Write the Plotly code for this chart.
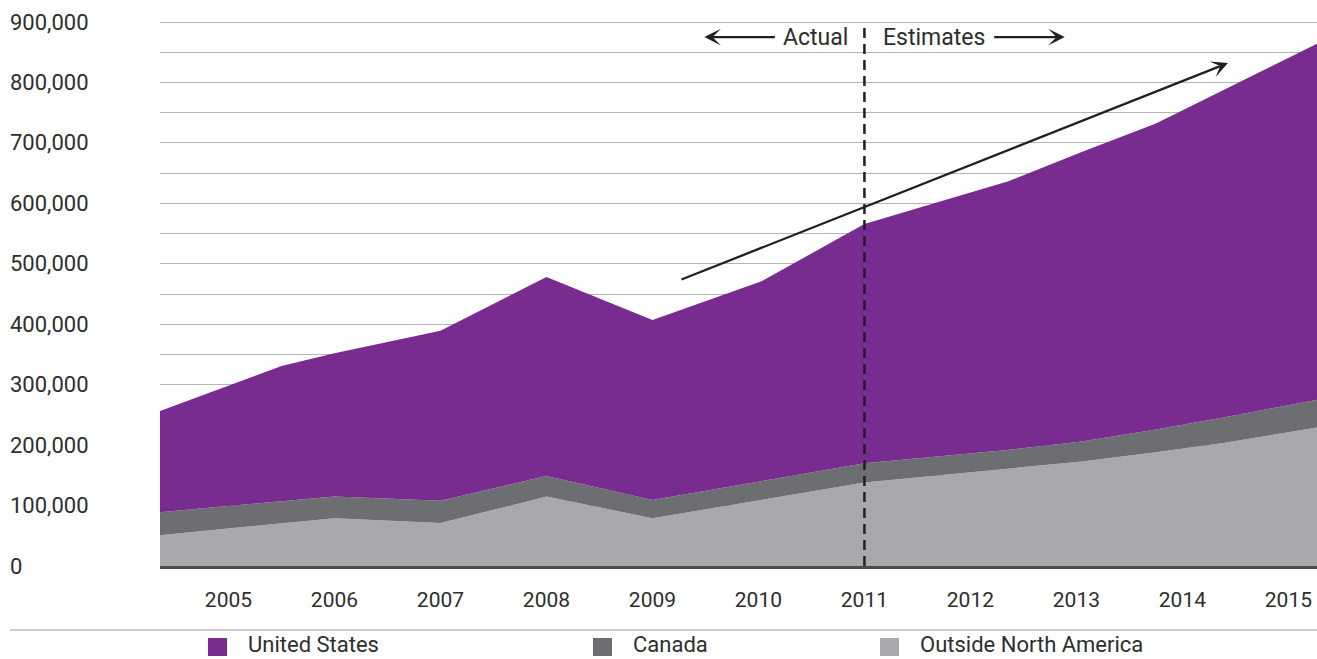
import plotly.graph_objects as go

# Position along the time axis (fractional years) of each vertex of the areas
years = [2004.35, 2005.5, 2006.0, 2007.0, 2008.0, 2009.0, 2010.03,
         2011.0, 2012.35, 2013.05, 2013.75, 2014.4, 2015.27]

# Stacked series (units)
outside_na = [51000, 70000, 79000, 71000, 115000, 79000, 110000,
              138000, 161000, 173000, 188000, 204000, 229000]
canada = [38000, 37000, 36000, 37000, 34000, 30000, 31000,
          32000, 31000, 33000, 38000, 42000, 46000]
united_states = [167000, 224000, 237000, 281000, 329000, 298000, 330000,
                 396000, 444000, 479000, 506000, 542000, 589000]

year_ticks = [2005, 2006, 2007, 2008, 2009, 2010, 2011, 2012, 2013, 2014, 2015]
year_labels = [str(y) for y in year_ticks]
value_ticks = [0, 100000, 200000, 300000, 400000, 500000, 600000, 700000, 800000, 900000]
value_labels = [f"{v:,}" for v in value_ticks]

PURPLE = "#792C8F"
DARK_GREY = "#6D6E71"
LIGHT_GREY = "#A7A9AC"
INK = "#231F20"
TEXT = "#2E2E2E"
FONT = "Roboto"

W, H = 1317, 659
L, R, T, B = 160, 0, 20, 93
plot_w = W - L - R
plot_h = H - T - B
Y_MAX = 900000 * plot_h / (plot_h - 2)   # leaves room so the 900,000 gridline shows


def px_x(p):
    return (p - L) / plot_w


def px_y(p):
    return (H - B - p) / plot_h


fig = go.Figure()
for name, vals, col in [("Outside North America", outside_na, LIGHT_GREY),
                        ("Canada", canada, DARK_GREY),
                        ("United States", united_states, PURPLE)]:
    fig.add_trace(go.Scatter(
        x=years, y=vals, name=name, mode="lines", stackgroup="one",
        line=dict(width=0, color=col), fillcolor=col, showlegend=False,
        hoverinfo="x+y+name",
    ))

# Actual / estimates divider
fig.add_shape(type="line", xref="x", yref="y", x0=2011, x1=2011, y0=0, y1=900000,
              line=dict(color=INK, width=2.5, dash="10px,6px"), layer="above")

annotations = []
# Left-aligned value labels
for v, t in zip(value_ticks, value_labels):
    annotations.append(dict(x=px_x(8), xref="paper", y=v, yref="y", text=t,
                            showarrow=False, xanchor="left", yanchor="middle",
                            font=dict(family=FONT, size=22, color=TEXT)))

arrow_style = dict(showarrow=True, arrowhead=3, arrowsize=1.2, arrowwidth=2.3,
                   arrowcolor=INK, text="", xref="x", yref="y", axref="x", ayref="y")
annotations += [
    dict(x=2010.86, y=875000, xref="x", yref="y", text="Actual", showarrow=False,
         xanchor="right", yanchor="middle", font=dict(family=FONT, size=23, color=TEXT)),
    dict(x=2011.16, y=875000, xref="x", yref="y", text="Estimates", showarrow=False,
         xanchor="left", yanchor="middle", font=dict(family=FONT, size=23, color=TEXT)),
    dict(x=2009.49, y=875000, ax=2010.17, ay=875000, **arrow_style),
    dict(x=2012.89, y=875000, ax=2012.21, ay=875000, **arrow_style),
    # Growth trend arrow
    dict(x=2014.43, y=832000, ax=2009.26, ay=473000, **arrow_style),
]

# Legend row under a rule
shapes = [dict(type="line", xref="paper", yref="paper", x0=px_x(10), x1=1,
               y0=px_y(630), y1=px_y(630), line=dict(color="#BDBDBD", width=1.5))]
legend_items = [("United States", PURPLE, 208), ("Canada", DARK_GREY, 593),
                ("Outside North America", LIGHT_GREY, 880)]
for label, col, x0 in legend_items:
    shapes.append(dict(type="rect", xref="paper", yref="paper",
                       x0=px_x(x0), x1=px_x(x0 + 19), y0=px_y(656), y1=px_y(638),
                       line=dict(width=0), fillcolor=col))
    annotations.append(dict(x=px_x(x0 + 38), xref="paper", y=px_y(659), yref="paper",
                            text=label, showarrow=False, xanchor="left", yanchor="bottom",
                            font=dict(family=FONT, size=22, color=TEXT)))

for s in shapes:
    fig.add_shape(**s)

fig.update_layout(
    width=W, height=H, margin=dict(l=L, r=R, t=T, b=B),
    paper_bgcolor="white", plot_bgcolor="white",
    annotations=annotations,
    xaxis=dict(range=[2004.354, 2015.27], tickvals=year_ticks, ticktext=year_labels,
               showgrid=False, zeroline=False, showline=True, linecolor="#4D4D4F",
               linewidth=2.5, ticks="", ticklabelstandoff=13,
               tickfont=dict(family=FONT, size=21, color=TEXT)),
    yaxis=dict(range=[0, Y_MAX], tick0=0, dtick=50000, showticklabels=False, showgrid=True,
               gridcolor="#B5B5B5", gridwidth=1, zeroline=False, showline=False,
               ticks=""),
)

fig.write_html("out.html")
